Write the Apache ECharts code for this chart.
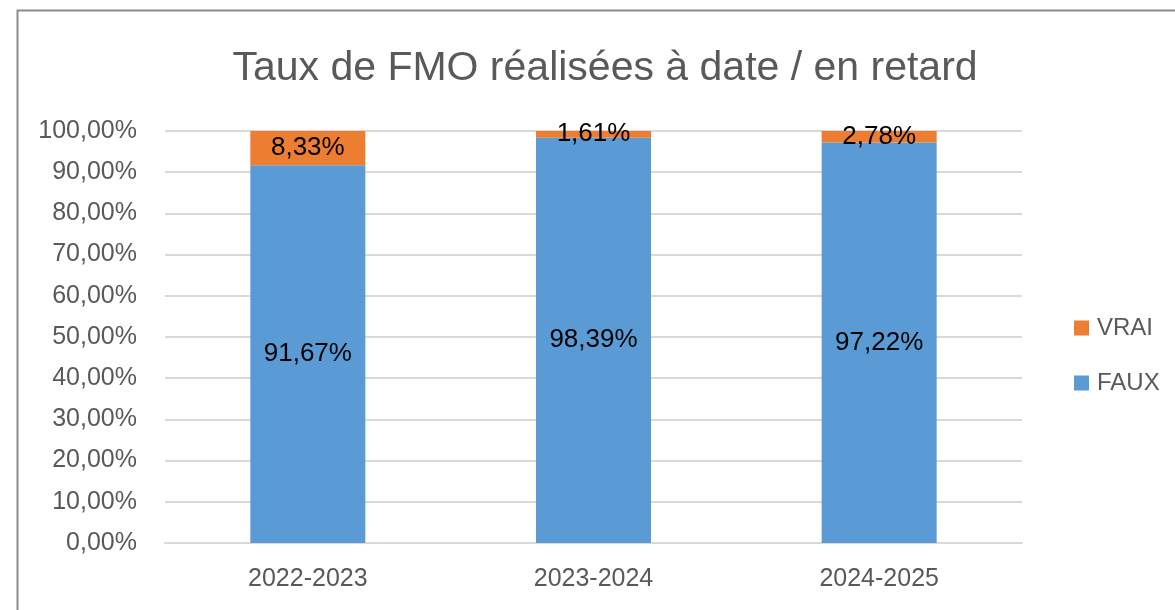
<!DOCTYPE html>
<html>
<head>
<meta charset="utf-8">
<script src="https://cdn.jsdelivr.net/npm/echarts@6/dist/echarts.min.js"></script>
<style>
  html, body { margin: 0; padding: 0; background: #fff; }
  #chart { width: 1175px; height: 610px; }
</style>
</head>
<body>
<div id="chart"></div>
<script>
// données
const categories = ['2022-2023', '2023-2024', '2024-2025']
const fauxValues = [91.67, 98.39, 97.22]
const vraiValues = [8.33, 1.61, 2.78]

const fmt = v => v.toFixed(2).replace('.', ',') + '%'
const font = 'Liberation Sans'

const chart = echarts.init(document.getElementById('chart'))

const labelStyle = {
  show: true,
  position: 'inside',
  color: '#000',
  fontSize: 26,
  fontFamily: font,
  formatter: p => fmt(p.value),
}

chart.setOption({
  animation: false,
  title: {
    text: 'Taux de FMO réalisées à date / en retard',
    left: 600,
    textAlign: 'center',
    top: 43,
    textStyle: { fontSize: 41, fontWeight: 'normal', color: '#595959', fontFamily: font },
  },
  graphic: [{
    type: 'rect',
    shape: { x: 17.5, y: 10.5, width: 1200, height: 700 },
    style: { fill: 'none', stroke: '#8c8c8c', lineWidth: 2 },
    silent: true,
  }],
  legend: {
    orient: 'vertical',
    left: 1074,
    top: 316,
    padding: 0,
    itemWidth: 15,
    itemHeight: 15,
    itemGap: 31,
    icon: 'rect',
    data: ['VRAI', 'FAUX'],
    textStyle: { fontSize: 24, color: '#595959', fontFamily: font, padding: [0, 0, 0, 3] },
  },
  grid: { left: 165, right: 153, top: 131, bottom: 67 },
  xAxis: {
    type: 'category',
    data: categories,
    axisTick: { show: false },
    axisLine: { show: true, lineStyle: { color: '#d9d9d9', width: 2 } },
    axisLabel: { fontSize: 25, color: '#595959', fontFamily: font, margin: 24 },
  },
  yAxis: {
    type: 'value',
    min: 0,
    max: 100,
    interval: 10,
    axisLine: { show: false },
    axisTick: { show: false },
    splitLine: { lineStyle: { color: '#d9d9d9', width: 2 } },
    axisLabel: { fontSize: 25, color: '#595959', fontFamily: font, margin: 28, formatter: v => fmt(v) },
  },
  series: [
    {
      name: 'FAUX',
      type: 'bar',
      stack: 'total',
      barWidth: 115,
      data: fauxValues,
      itemStyle: { color: '#5b9bd5' },
      label: labelStyle,
    },
    {
      name: 'VRAI',
      type: 'bar',
      stack: 'total',
      barWidth: 115,
      data: vraiValues,
      itemStyle: { color: '#ed7d31' },
      label: labelStyle,
    },
  ],
})
</script>
</body>
</html>
